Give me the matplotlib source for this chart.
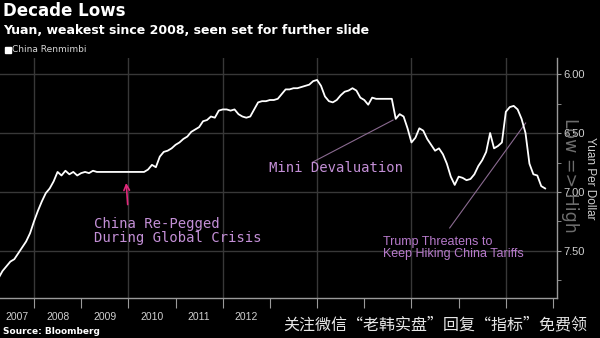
import matplotlib.pyplot as plt
from matplotlib.patches import Rectangle
import pandas as pd

# monthly USD/CNY fixing levels, April 2007 .. November 2018
start_month = "2007-04-01"
yuan = [
    7.73, 7.67, 7.63, 7.59, 7.57, 7.52, 7.47, 7.42, 7.35,
    7.25, 7.16, 7.08, 7.01, 6.97, 6.91, 6.83, 6.86, 6.82, 6.85, 6.83, 6.86,
    6.84, 6.83, 6.84, 6.82, 6.83, 6.83, 6.83, 6.83, 6.83, 6.83, 6.83, 6.83,
    6.83, 6.83, 6.83, 6.83, 6.83, 6.81, 6.77, 6.79, 6.70, 6.66, 6.65, 6.63,
    6.60, 6.58, 6.55, 6.53, 6.49, 6.47, 6.45, 6.40, 6.39, 6.36, 6.37, 6.31,
    6.30, 6.30, 6.31, 6.30, 6.34, 6.36, 6.37, 6.36, 6.30, 6.24, 6.23, 6.23,
    6.22, 6.22, 6.21, 6.17, 6.13, 6.13, 6.12, 6.12, 6.11, 6.10, 6.09, 6.06,
    6.05, 6.10, 6.19, 6.23, 6.24, 6.22, 6.18, 6.15, 6.14, 6.12, 6.14, 6.20,
    6.22, 6.26, 6.20, 6.21, 6.21, 6.21, 6.21, 6.21, 6.38, 6.34, 6.36, 6.46,
    6.58, 6.54, 6.46, 6.48, 6.55, 6.60, 6.65, 6.63, 6.68, 6.76, 6.87, 6.94,
    6.87, 6.88, 6.90, 6.89, 6.85, 6.78, 6.73, 6.66, 6.50, 6.63, 6.61, 6.58,
    6.32, 6.28, 6.27, 6.30, 6.38, 6.50, 6.76, 6.85, 6.86, 6.95, 6.97,
]

year_ticks = list(range(2008, 2020))
grid_years = [2008, 2010, 2012, 2014, 2016, 2018]
year_labels = ["2007", "2008", "2009", "2010", "2011", "2012"]
y_major = [6.0, 6.5, 7.0, 7.5]
y_minor = [6.25, 6.75, 7.25, 7.75]

x_min, x_max = 2007.28, 2019.08
y_top, y_bottom = 5.865, 7.90

dates = pd.date_range(start_month, periods=len(yuan), freq="MS")
xs = dates.year + (dates.month - 1) / 12

BG = "black"
GRID = "#383838"
AXIS = "#9a9a9a"
TICK_TEXT = "#d0d0d0"
NOTE = "#c38fd6"

fig = plt.figure(figsize=(6, 3.38), dpi=100, facecolor=BG)
ax = fig.add_axes([0, 0.118, 0.928, 0.71])
ax.set_facecolor(BG)

for g in grid_years:
    ax.axvline(g, color=GRID, lw=1, zorder=0)
for v in y_major:
    ax.axhline(v, color=GRID, lw=1, zorder=0)

ax.plot(xs, yuan, color="white", lw=1.3, zorder=3)

ax.set_xlim(x_min, x_max)
ax.set_ylim(y_bottom, y_top)

for side in ["top", "left"]:
    ax.spines[side].set_visible(False)
for side in ["right", "bottom"]:
    ax.spines[side].set_color(AXIS)
    ax.spines[side].set_linewidth(1)

# x axis: tick marks at year boundaries, labels in the middle of each year
ax.set_xticks(year_ticks)
ax.set_xticklabels([])
label_pos = [(x_min + 2008) / 2] + [y + 0.5 for y in range(2008, 2008 + len(year_labels) - 1)]
ax.set_xticks(label_pos, minor=True)
ax.set_xticklabels(year_labels, minor=True, fontsize=7.5, color=TICK_TEXT,
                   family="Liberation Sans")
ax.tick_params(axis="x", which="major", length=7, color=AXIS, direction="out")
ax.tick_params(axis="x", which="minor", length=0, pad=10)

# y axis on the right, inverted
ax.yaxis.tick_right()
ax.yaxis.set_label_position("right")
ax.set_yticks(y_major)
ax.set_yticklabels([f"{v:.2f}" for v in y_major], fontsize=8, color=TICK_TEXT,
                   family="Liberation Sans")
ax.set_yticks(y_minor, minor=True)
ax.tick_params(axis="y", which="both", length=3, color=AXIS, direction="out", pad=2)
ax.set_ylabel("Yuan Per Dollar", rotation=270, fontsize=8.5, color=TICK_TEXT,
              family="Liberation Sans", labelpad=8)

ax.text(1.023, 0.51, "Low => High", transform=ax.transAxes, rotation=270,
        ha="center", va="center", fontsize=12.5, color="#7a7a7a", alpha=0.9,
        zorder=4, clip_on=False)

# annotations
ax.annotate("", xy=(2009.95, 6.90), xytext=(2009.99, 7.13),
            arrowprops=dict(arrowstyle="->", color="#e0287a", lw=1.2))
ax.text(2009.27, 7.335, "China Re-Pegged\nDuring Global Crisis", family="DejaVu Sans Mono",
        fontsize=10, color=NOTE, va="center", ha="left", linespacing=1.0)

ax.plot([2013.91, 2015.61], [6.746, 6.39], color="#8a6a90", lw=0.8, zorder=2)
ax.text(2012.98, 6.797, "Mini Devaluation", family="DejaVu Sans Mono",
        fontsize=10, color=NOTE, va="center", ha="left")

ax.plot([2016.81, 2018.42], [7.305, 6.415], color="#8a6a90", lw=0.8, zorder=2)
ax.text(2015.39, 7.475, "Trump Threatens to\nKeep Hiking China Tariffs",
        family=["Liberation Sans Narrow", "Liberation Sans"], fontsize=9,
        color="#b77acb", va="center", ha="left", linespacing=1.05)

# headline block
fig.text(0.005, 0.995, "Decade Lows", fontsize=12, fontweight="bold", color="white",
         va="top", ha="left")
fig.text(0.005, 0.93, "Yuan, weakest since 2008, seen set for further slide", fontsize=9,
         fontweight="bold", color="white", va="top", ha="left")
fig.add_artist(Rectangle((5 / 600, 1 - 53 / 338), 6 / 600, 6 / 338,
                         transform=fig.transFigure, color="white"))
fig.text(12 / 600, 1 - 50 / 338, "China Renmimbi", fontsize=6.5, color="#d8d8d8",
         va="center", ha="left")

fig.text(0.005, 1 - 332 / 338, "Source: Bloomberg", fontsize=6.5, fontweight="bold",
         color="white", va="center", ha="left")

fig.text(283 / 600, 1 - 325 / 338, "关注微信“老韩实盘”回复“指标”免费领",
         family=["Noto Sans CJK SC", "DejaVu Sans"], fontsize=11.5, color="#e6e6e6",
         va="center", ha="left")

fig.savefig("out.png", dpi=100, facecolor=BG)
